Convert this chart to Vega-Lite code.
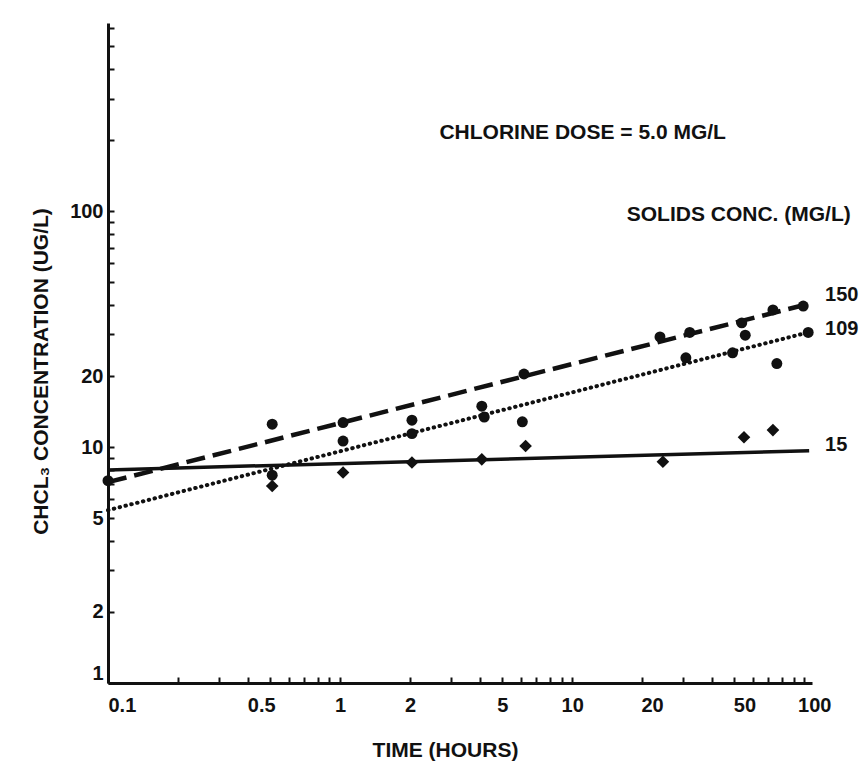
{
  "$schema": "https://vega.github.io/schema/vega-lite/v6.json",
  "width": 704,
  "height": 660,
  "autosize": {"type": "none"},
  "padding": {"left": 108, "top": 23, "right": 54, "bottom": 88},
  "background": "white",
  "config": {
    "view": {"stroke": null},
    "font": "Liberation Sans",
    "axis": {
      "domainColor": "#111",
      "domainWidth": 3,
      "tickColor": "#111",
      "tickWidth": 2,
      "tickSize": -6,
      "grid": false,
      "labelColor": "#111",
      "labelFont": "Liberation Sans",
      "labelFontSize": 20,
      "labelFontWeight": "bold",
      "labelOverlap": false,
      "titleColor": "#111",
      "titleFont": "Liberation Sans",
      "titleFontSize": 21,
      "titleFontWeight": "bold"
    }
  },
  "datasets": {
    "points": [
      {"solids": "150", "time": 0.1, "conc": 7.2},
      {"solids": "150", "time": 0.51, "conc": 12.5},
      {"solids": "150", "time": 1.03, "conc": 12.7},
      {"solids": "150", "time": 2.04, "conc": 13.0},
      {"solids": "150", "time": 4.08, "conc": 14.9},
      {"solids": "150", "time": 6.2, "conc": 20.4},
      {"solids": "150", "time": 23.9, "conc": 29.3},
      {"solids": "150", "time": 32.1, "conc": 30.6},
      {"solids": "150", "time": 53.8, "conc": 33.6},
      {"solids": "150", "time": 73.3, "conc": 38.1},
      {"solids": "150", "time": 99, "conc": 39.6},
      {"solids": "109", "time": 0.51, "conc": 7.6},
      {"solids": "109", "time": 1.03, "conc": 10.6},
      {"solids": "109", "time": 2.04, "conc": 11.4},
      {"solids": "109", "time": 4.18, "conc": 13.4},
      {"solids": "109", "time": 6.1, "conc": 12.8},
      {"solids": "109", "time": 30.9, "conc": 23.9},
      {"solids": "109", "time": 49.1, "conc": 25.1},
      {"solids": "109", "time": 55.7, "conc": 29.8},
      {"solids": "109", "time": 76.2, "conc": 22.6},
      {"solids": "109", "time": 104, "conc": 30.6},
      {"solids": "15", "time": 0.51, "conc": 6.84},
      {"solids": "15", "time": 1.03, "conc": 7.8},
      {"solids": "15", "time": 2.04, "conc": 8.6},
      {"solids": "15", "time": 4.08, "conc": 8.87},
      {"solids": "15", "time": 6.3, "conc": 10.1},
      {"solids": "15", "time": 24.6, "conc": 8.66},
      {"solids": "15", "time": 55, "conc": 11.0},
      {"solids": "15", "time": 73.3, "conc": 11.8}
    ],
    "fits": [
      {"solids": "150", "time": 0.1, "conc": 7.1},
      {"solids": "150", "time": 100, "conc": 40},
      {"solids": "109", "time": 0.1, "conc": 5.4},
      {"solids": "109", "time": 104, "conc": 30.6},
      {"solids": "15", "time": 0.1, "conc": 8.0},
      {"solids": "15", "time": 105, "conc": 9.65}
    ],
    "notes": [
      {"time": 11.1, "conc": 214, "text": "CHLORINE DOSE = 5.0 MG/L"},
      {"time": 52.2, "conc": 96.2, "text": "SOLIDS CONC. (MG/L)"}
    ],
    "labels": [
      {"time": 123, "conc": 44.1, "text": "150"},
      {"time": 123, "conc": 31.6, "text": "109"},
      {"time": 123, "conc": 10.2, "text": "15"}
    ]
  },
  "encoding": {
    "x": {
      "field": "time",
      "type": "quantitative",
      "scale": {"type": "log", "domain": [0.1, 108], "nice": false},
      "axis": {
        "title": "TIME (HOURS)",
        "titleX": 337,
        "titleY": 67,
        "titleBaseline": "middle",
        "values": [0.1, 0.2, 0.3, 0.4, 0.5, 0.6, 0.7, 0.8, 0.9, 1, 2, 3, 4, 5, 6, 7, 8, 9, 10, 20, 30, 40, 50, 60, 70, 80, 90, 100],
        "labelExpr": "indexof([0.1, 0.5, 1, 2, 5, 10, 20, 50, 100], datum.value) >= 0 ? datum.label : ''",
        "format": "~g",
        "labelOffset": {"condition": [{"test": "datum.value >= 20", "value": 10}, {"test": "datum.value == 0.5", "value": -9}], "value": 0},
        "labelPadding": 18
      }
    },
    "y": {
      "field": "conc",
      "type": "quantitative",
      "scale": {"type": "log", "domain": [1, 627], "nice": false},
      "axis": {
        "title": "CHCL₃  CONCENTRATION (UG/L)",
        "titleX": -67,
        "titleY": 348,
        "titleBaseline": "middle",
        "titleAlign": "center",
        "titleAngle": 270,
        "values": [1, 2, 3, 4, 5, 6, 7, 8, 9, 10, 20, 30, 40, 50, 60, 70, 80, 90, 100, 200, 300, 400, 500, 600],
        "labelExpr": "indexof([1, 2, 5, 10, 20, 100], datum.value) >= 0 ? datum.label : ''",
        "format": "~g",
        "labelFlush": true,
        "labelPadding": 11
      }
    }
  },
  "layer": [
    {
      "data": {"name": "fits"},
      "transform": [{"filter": "datum.solids == '150'"}],
      "mark": {"type": "line", "color": "#111", "strokeWidth": 4.5, "strokeDash": [19, 8]},
      "encoding": {}
    },
    {
      "data": {"name": "fits"},
      "transform": [{"filter": "datum.solids == '109'"}],
      "mark": {"type": "line", "color": "#111", "strokeWidth": 4, "strokeDash": [0.5, 5.5], "strokeCap": "round"},
      "encoding": {}
    },
    {
      "data": {"name": "fits"},
      "transform": [{"filter": "datum.solids == '15'"}],
      "mark": {"type": "line", "color": "#111", "strokeWidth": 3.5},
      "encoding": {}
    },
    {
      "data": {"name": "points"},
      "transform": [{"filter": "datum.solids != '15'"}],
      "mark": {"type": "point", "shape": "circle", "filled": true, "color": "#111", "opacity": 1, "size": 120}
    },
    {
      "data": {"name": "points"},
      "transform": [{"filter": "datum.solids == '15'"}],
      "mark": {"type": "point", "shape": "diamond", "filled": true, "color": "#111", "opacity": 1, "size": 160}
    },
    {
      "data": {"name": "notes"},
      "mark": {"type": "text", "font": "Liberation Sans", "fontSize": 21, "fontWeight": "bold", "color": "#111", "align": "center", "baseline": "middle"},
      "encoding": {"text": {"field": "text"}}
    },
    {
      "data": {"name": "labels"},
      "mark": {"type": "text", "font": "Liberation Sans", "fontSize": 20, "fontWeight": "bold", "color": "#111", "align": "left", "baseline": "middle"},
      "encoding": {"text": {"field": "text"}}
    }
  ]
}
